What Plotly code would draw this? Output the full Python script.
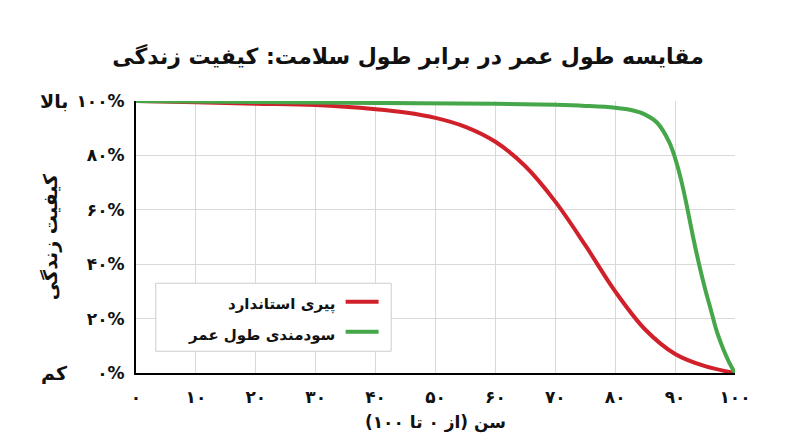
import plotly.graph_objects as go

ages = [0, 10, 20, 30, 40, 45, 50, 55, 60, 65, 70, 75, 80, 85, 90, 95, 100]
standard = [100, 99.5, 99, 98.5, 97, 95.8, 93.8, 90.5, 85, 76, 63, 47, 30, 16, 7, 2.5, 0]
ages_g = [0, 20, 40, 60, 70, 75, 80, 83, 85, 87, 89, 90, 91, 92, 93, 94, 95, 96, 97, 98, 99, 100]
longevity = [100, 99.6, 99.3, 99, 98.6, 98.2, 97.5, 96.5, 95, 92, 85, 79, 71, 61, 50, 40, 31, 23, 15, 9, 4, 0]
xticks = [0, 10, 20, 30, 40, 50, 60, 70, 80, 90, 100]
xlabels = ["۰", "۱۰", "۲۰", "۳۰", "۴۰", "۵۰", "۶۰", "۷۰", "۸۰", "۹۰", "۱۰۰"]
yticks = [0, 20, 40, 60, 80, 100]
ylabels = ["۰%", "۲۰%", "۴۰%", "۶۰%", "۸۰%", "۱۰۰%"]
names = ["پیری استاندارد", "سودمندی طول عمر"]
RED, GREEN = "#d0202a", "#45a64a"
F = "DejaVu Sans"

fig = go.Figure()
fig.add_trace(go.Scatter(x=ages, y=standard, mode="lines", line=dict(color=RED, width=4, shape="spline"), name=names[0], showlegend=False))
fig.add_trace(go.Scatter(x=ages_g, y=longevity, mode="lines", line=dict(color=GREEN, width=4, shape="spline"), name=names[1], showlegend=False))

fig.update_layout(
    width=800, height=447, margin=dict(l=128, r=73, t=93, b=82, autoexpand=False),
    paper_bgcolor="white", plot_bgcolor="white",
    font=dict(family=F, color="#111", size=16),
    title=dict(text="<b>مقایسه طول عمر در برابر طول سلامت: کیفیت زندگی</b>", x=0.5, y=0.91, xanchor="center", font=dict(size=22, family=F)),
    xaxis=dict(range=[0, 100], tickvals=xticks, ticktext=["<b>%s</b>" % t for t in xlabels], showgrid=True, gridcolor="#d9d9d9",
               showline=True, linecolor="black", linewidth=2, zeroline=False, ticks="outside", ticklen=8, tickcolor="white",
               automargin=False, tickfont=dict(size=17),
               title=dict(text="<b>سن (از ۰ تا ۱۰۰)</b>", font=dict(size=17), standoff=10)),
    yaxis=dict(range=[0, 100], tickvals=yticks, ticktext=["<b>%s</b>" % t for t in ylabels], showgrid=True, gridcolor="#d9d9d9",
               showline=True, linecolor="black", linewidth=2, zeroline=False, ticks="outside", ticklen=6, tickcolor="white",
               automargin=False, tickfont=dict(size=17),
               title=dict(text="<b>کیفیت زندگی</b>", font=dict(size=19), standoff=14)),
)
for yv, t in [(100, "بالا"), (0, "کم")]:
    fig.add_annotation(x=0, xref="paper", y=yv, yref="y", xshift=-82, text="<b>%s</b>" % t, showarrow=False, font=dict(size=19), xanchor="center")

# legend box (RTL style)
fig.add_shape(type="rect", xref="paper", yref="paper", x0=0.033, x1=0.426, y0=0.08, y1=0.33, line=dict(color="#cccccc", width=1), fillcolor="white")
for i, (n, c) in enumerate(zip(names, [RED, GREEN])):
    yy = 0.262 - i * 0.11
    fig.add_shape(type="line", xref="paper", yref="paper", x0=0.35, x1=0.405, y0=yy, y1=yy, line=dict(color=c, width=4))
    fig.add_annotation(xref="paper", yref="paper", x=0.335, y=yy, yshift=-3, text="<b>%s</b>" % n, showarrow=False, xanchor="right", yanchor="middle", font=dict(size=15))

fig.write_html("out.html")
